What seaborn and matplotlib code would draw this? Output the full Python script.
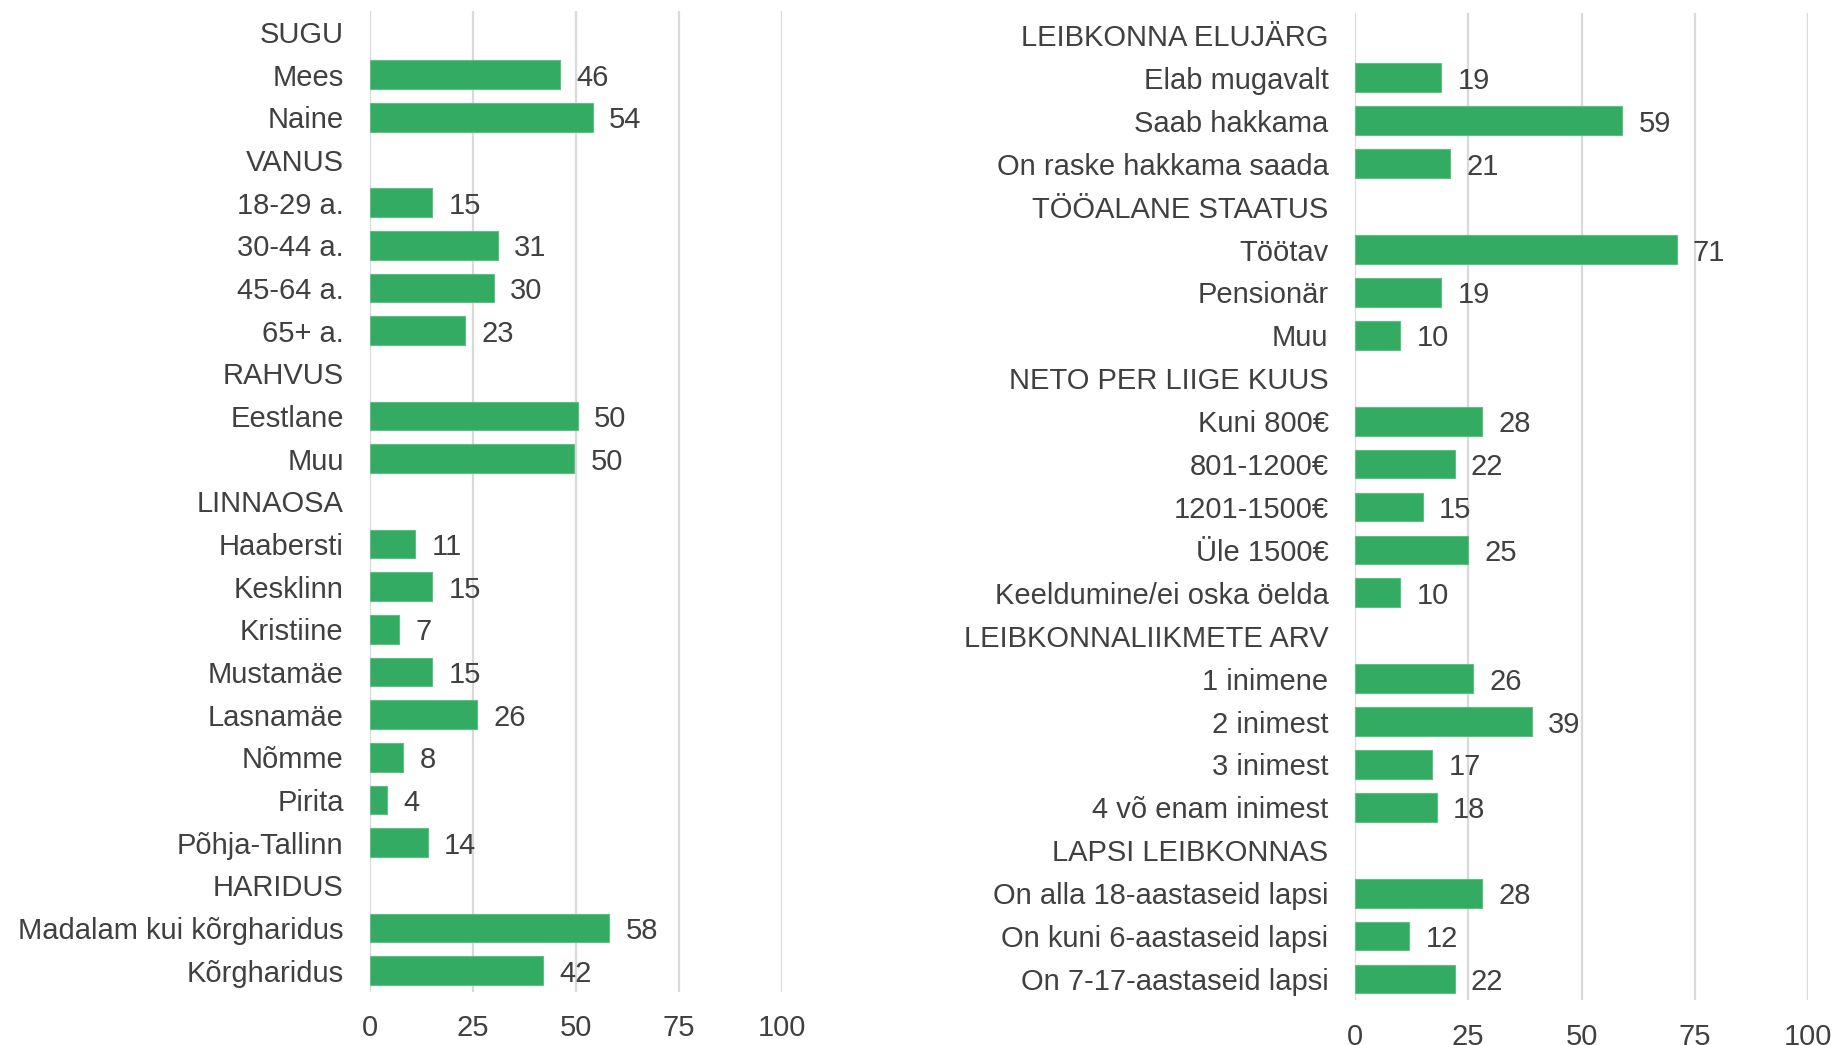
import numpy as np
import pandas as pd
import matplotlib
matplotlib.use("Agg")
import matplotlib.pyplot as plt
import seaborn as sns

sns.set_theme(style="white")
plt.rcParams['font.family'] = ['Liberation Sans', 'DejaVu Sans']

left_labels = ["SUGU", "Mees", "Naine", "VANUS", "18-29 a.", "30-44 a.", "45-64 a.", "65+ a.",
               "RAHVUS", "Eestlane", "Muu", "LINNAOSA", "Haabersti", "Kesklinn", "Kristiine",
               "Mustamäe", "Lasnamäe", "Nõmme", "Pirita", "Põhja-Tallinn", "HARIDUS",
               "Madalam kui kõrgharidus", "Kõrgharidus"]
left_values = [np.nan, 46, 54, np.nan, 15, 31, 30, 23,
               np.nan, 50.4, 49.6, np.nan, 11, 15, 7,
               15, 26, 8, 4, 14, np.nan,
               58, 42]

right_labels = ["LEIBKONNA ELUJÄRG", "Elab mugavalt", "Saab hakkama", "On raske hakkama saada",
                "TÖÖALANE STAATUS", "Töötav", "Pensionär", "Muu",
                "NETO PER LIIGE KUUS", "Kuni 800€", "801-1200€", "1201-1500€", "Üle 1500€",
                "Keeldumine/ei oska öelda", "LEIBKONNALIIKMETE ARV", "1 inimene", "2 inimest",
                "3 inimest", "4 võ enam inimest", "LAPSI LEIBKONNAS", "On alla 18-aastaseid lapsi",
                "On kuni 6-aastaseid lapsi", "On 7-17-aastaseid lapsi"]
right_values = [np.nan, 19, 59, 21,
                np.nan, 71, 19, 10,
                np.nan, 28, 22, 15, 25,
                10, np.nan, 26, 39,
                17, 18, np.nan, 28,
                12, 22]

xticks = [0, 25, 50, 75, 100]

BAR = "#34ab62"
TXT = "#404040"
FS = 21

fig = plt.figure(figsize=(18.41, 10.45), dpi=100)
ax1 = fig.add_axes([0.2010, 0.0507, 0.2238, 0.9392])
ax2 = fig.add_axes([0.7360, 0.0426, 0.2461, 0.9445])

for ax, labels, values, off in [(ax1, left_labels, left_values, 4.0),
                                (ax2, right_labels, right_values, 3.6)]:
    df = pd.DataFrame({"label": labels, "value": values})
    sns.barplot(data=df, x="value", y="label", order=labels, orient="h",
                color=BAR, saturation=1, width=0.67, ax=ax, errorbar=None,
                edgecolor="#5cc083", linewidth=0.8)
    ax.set_xlim(0, 100)
    ax.set_ylim(len(labels) - 0.5, -0.5)
    ax.set_xticks(xticks)
    ax.set_xticklabels([str(t) for t in xticks])
    ax.set_xlabel("")
    ax.set_ylabel("")
    ax.grid(axis="x", color="#d9d9d9", linewidth=1.6)
    ax.set_axisbelow(True)
    for s in ax.spines.values():
        s.set_visible(False)
    ax.tick_params(axis="y", length=0, pad=19, labelsize=FS, labelcolor=TXT)
    ax.tick_params(axis="x", length=0, pad=16, labelsize=FS, labelcolor=TXT)
    for i, v in enumerate(values):
        if not np.isnan(v):
            ax.text(v + off, i, f"{v:.0f}", va="center_baseline", ha="left",
                    fontsize=FS, color=TXT)

fig.savefig("out.png", dpi=100)
